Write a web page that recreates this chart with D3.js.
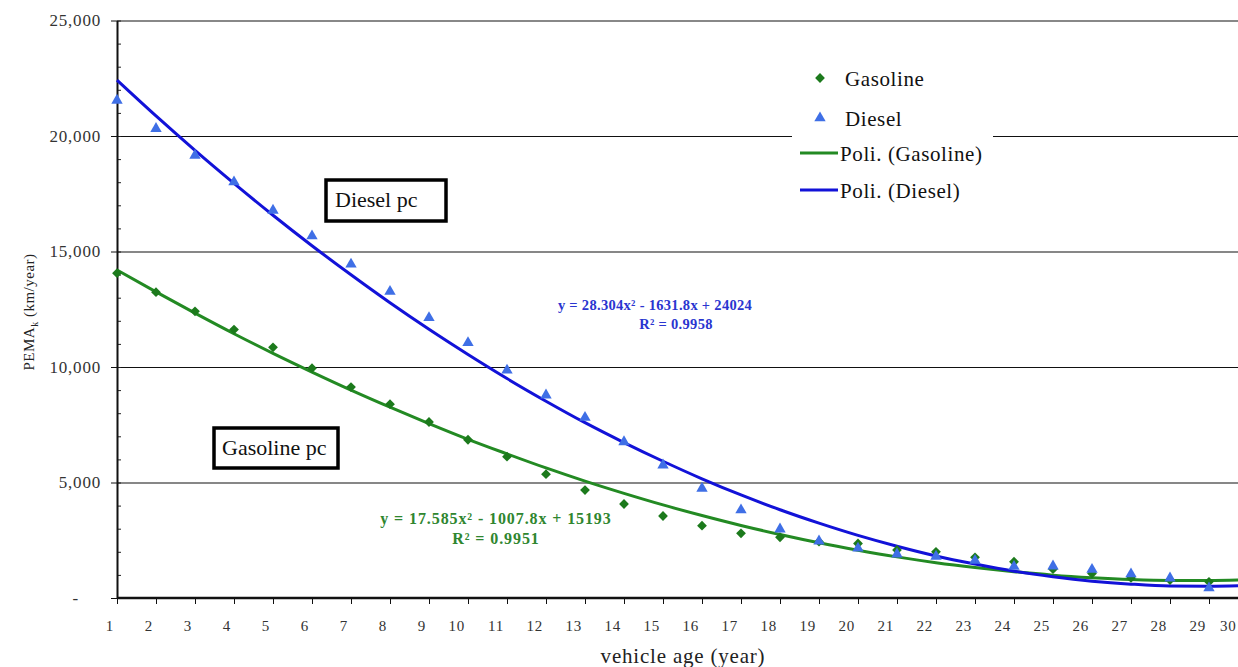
<!DOCTYPE html>
<html>
<head>
<meta charset="utf-8">
<script src="https://cdn.jsdelivr.net/npm/d3@7"></script>
<style>
  body { margin: 0; background: #fff; }
  text { font-family: "Liberation Serif", "Times New Roman", "DejaVu Serif", serif; }
</style>
</head>
<body>
<div id="chart"></div>
<script>
// vehicle age (year)
const ages = [1,2,3,4,5,6,7,8,9,10,11,12,13,14,15,16,17,18,19,20,21,22,23,24,25,26,27,28,29,30];
// observed PEMA_k (km/year), ages 1..29
const gasoline = [14060,13240,12410,11620,10850,9950,9130,8390,7620,6850,6120,5360,4670,4070,3550,3130,2800,2630,2440,2360,2080,2000,1760,1570,1250,1060,870,780,700];
const diesel = [21540,20320,19160,18010,16780,15670,14450,13270,12130,11050,9860,8780,7815,6760,5750,4745,3810,2980,2460,2150,1900,1800,1620,1360,1380,1230,1040,860,430];
// polynomial trend lines, ages 1..30
const gasolineTrend = [14200,13250,12330,11440,10590,9780,9000,8260,7550,6870,6240,5630,5060,4530,4030,3570,3140,2750,2390,2070,1780,1530,1320,1140,990,880,800,760,760,790];
const dieselTrend = [22420,20870,19380,17950,16570,15250,13990,12780,11630,10540,9500,8520,7590,6730,5920,5160,4460,3820,3240,2710,2240,1820,1470,1160,920,730,600,520,510,540];
const yTicks = [0,5000,10000,15000,20000,25000];
const legendItems = ["Gasoline","Diesel","Poli. (Gasoline)","Poli. (Diesel)"];
const gasEq = ["y = 17.585x\u00B2 - 1007.8x + 15193", "R\u00B2 = 0.9951"];
const dieEq = ["y = 28.304x\u00B2 - 1631.8x + 24024", "R\u00B2 = 0.9958"];

const W = 1238, H = 667;
const plotLeft = 117, plotBottom = 598, plotTop = 20.5;

const svg = d3.select("#chart").append("svg")
  .attr("width", W).attr("height", H);

const x = d3.scaleLinear().domain([1, 30]).range([plotLeft, plotLeft + 29 * 39]);
const y = d3.scaleLinear().domain([0, 25000]).range([plotBottom, plotTop]);

const green = "#238a23", blue = "#1212d8";
const gasMark = "#1c7a1c", dieMark = "#3f6fe6";

// gridlines
svg.append("g")
  .attr("transform", `translate(${plotLeft},0)`)
  .call(d3.axisLeft(y).tickValues(yTicks.slice(1)).tickSize(-(W - plotLeft)).tickFormat(""))
  .call(g => g.select(".domain").remove())
  .call(g => g.selectAll("line").attr("stroke", "#111").attr("stroke-width", 1.2))
  .call(g => g.selectAll(".tick").filter(d => d === 25000).select("line")
    .attr("stroke", "#888").attr("stroke-width", 2));

// minor ticks inside
svg.append("g")
  .attr("transform", `translate(${plotLeft},0)`)
  .call(d3.axisRight(y).tickValues(d3.range(0, 25001, 1000)).tickSize(4).tickFormat(""))
  .call(g => g.select(".domain").remove())
  .call(g => g.selectAll("line").attr("stroke", "#222"));

// y axis
svg.append("g")
  .attr("transform", `translate(${plotLeft},0)`)
  .call(d3.axisLeft(y).tickValues(yTicks).tickSize(6).tickSizeOuter(0)
    .tickFormat(d => d === 0 ? "-" : d3.format(",")(d)))
  .call(g => g.select(".domain").attr("stroke", "#111").attr("stroke-width", 2))
  .call(g => g.selectAll("line").attr("stroke", "#111"))
  .call(g => g.selectAll("text")
    .attr("x", d => d === 0 ? -38 : -16)
    .attr("font-size", 17).attr("letter-spacing", 0.8)
    .attr("fill", "#333"));

// x axis
svg.append("g")
  .attr("transform", `translate(0,${plotBottom})`)
  .call(d3.axisBottom(x).tickValues(ages).tickSize(6).tickSizeOuter(0).tickFormat(d3.format("d")))
  .call(g => g.select(".domain").attr("stroke", "#111").attr("stroke-width", 2.5)
    .attr("d", `M${plotLeft},0H${W}`))
  .call(g => g.selectAll("line").attr("stroke", "#111"))
  .call(g => g.selectAll("text")
    .attr("text-anchor", "end").attr("y", 22)
    .attr("dx", d => x(d) > W - 4 ? -(x(d) - W + 2) : -3.5)
    .attr("font-size", 15).attr("letter-spacing", 0.8).attr("fill", "#333"));

// axis titles
svg.append("text")
  .attr("x", 683).attr("y", 663)
  .attr("text-anchor", "middle").attr("font-size", 21).attr("letter-spacing", 0.8)
  .attr("fill", "#222").text("vehicle age (year)");

const yt = svg.append("text")
  .attr("transform", "translate(34,312) rotate(-90)")
  .attr("text-anchor", "middle").attr("font-size", 15).attr("letter-spacing", 0.5)
  .attr("fill", "#222");
yt.append("tspan").text("PEMA");
yt.append("tspan").attr("font-size", 10).attr("dy", 4).text("k");
yt.append("tspan").attr("dy", -4).text(" (km/year)");

// trend lines
const trend = d3.line()
  .x((d, i) => x(ages[i]))
  .y(d => y(d))
  .curve(d3.curveMonotoneX);

svg.append("path").datum(gasolineTrend)
  .attr("d", trend).attr("fill", "none")
  .attr("stroke", green).attr("stroke-width", 3);
svg.append("path").datum(dieselTrend)
  .attr("d", trend).attr("fill", "none")
  .attr("stroke", blue).attr("stroke-width", 3);

// markers
const diamond = d3.symbol().type(d3.symbolSquare).size(48);
const triangle = d3.symbol().type(d3.symbolTriangle).size(56);

svg.append("g").selectAll("path")
  .data(gasoline)
  .join("path")
  .attr("d", diamond)
  .attr("transform", (d, i) => `translate(${x(ages[i])},${y(d)}) rotate(45)`)
  .attr("fill", gasMark);

svg.append("g").selectAll("path")
  .data(diesel)
  .join("path")
  .attr("d", triangle)
  .attr("transform", (d, i) => `translate(${x(ages[i])},${y(d)})`)
  .attr("fill", dieMark);

// equations
function equation(lines, cx, ys, color, size, spacing) {
  lines.forEach((t, i) => {
    svg.append("text")
      .attr("x", cx[i]).attr("y", ys[i])
      .attr("text-anchor", "middle")
      .attr("font-size", size).attr("font-weight", "bold")
      .attr("letter-spacing", spacing)
      .attr("fill", color).text(t);
  });
}
equation(dieEq, [655, 676], [310, 329], "#2a35d0", 14.5, 0.3);
equation(gasEq, [496, 496], [524, 544], "#2f862f", 16, 0.9);

// boxed labels
function boxLabel(txt, x0, y0, w, h, tx, ty) {
  svg.append("rect")
    .attr("x", x0).attr("y", y0).attr("width", w).attr("height", h)
    .attr("fill", "#fff").attr("stroke", "#000").attr("stroke-width", 3.5);
  svg.append("text")
    .attr("x", tx).attr("y", ty)
    .attr("font-size", 22).attr("fill", "#111").text(txt);
}
boxLabel("Diesel pc", 326, 180, 120, 41, 335, 207);
boxLabel("Gasoline pc", 214, 428, 124, 40, 222, 455);

// legend
const lg = svg.append("g");
lg.append("rect").attr("x", 792).attr("y", 50).attr("width", 201).attr("height", 158)
  .attr("fill", "#fff");
const rows = [78, 118, 153, 190];
lg.append("path").attr("d", diamond)
  .attr("transform", `translate(820,${rows[0]}) rotate(45)`).attr("fill", gasMark);
lg.append("path").attr("d", triangle)
  .attr("transform", `translate(820,${rows[1]})`).attr("fill", dieMark);
lg.append("line").attr("x1", 800).attr("x2", 838).attr("y1", rows[2]).attr("y2", rows[2])
  .attr("stroke", green).attr("stroke-width", 3);
lg.append("line").attr("x1", 800).attr("x2", 838).attr("y1", rows[3]).attr("y2", rows[3])
  .attr("stroke", blue).attr("stroke-width", 3);
lg.selectAll("text.leg")
  .data(legendItems)
  .join("text")
  .attr("class", "leg")
  .attr("x", (d, i) => i < 2 ? 845 : 840)
  .attr("y", (d, i) => rows[i] + 7.5)
  .attr("font-size", 21).attr("letter-spacing", 0.6)
  .attr("fill", "#111")
  .text(d => d);
</script>
</body>
</html>
